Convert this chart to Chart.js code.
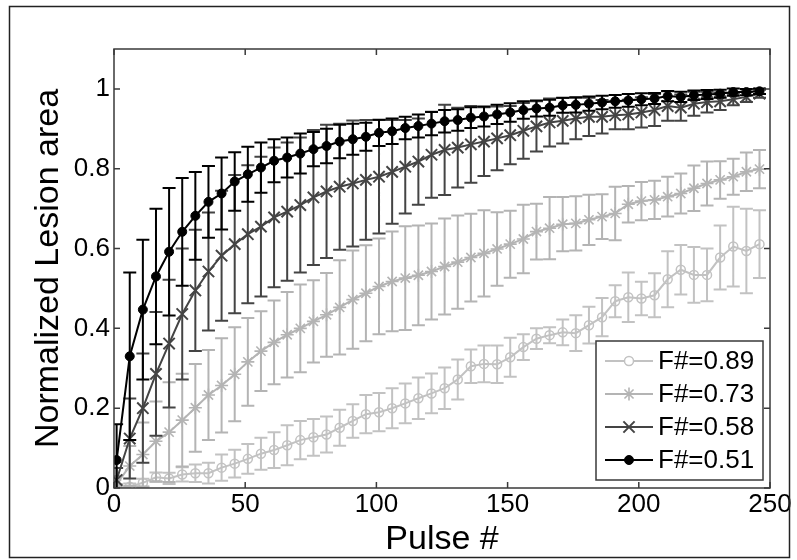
<!DOCTYPE html>
<html>
<head>
<meta charset="utf-8">
<script src="https://cdn.jsdelivr.net/npm/chart.js@4/dist/chart.umd.min.js"></script>
<style>
  html, body { margin: 0; padding: 0; background: #fff; }
  #wrap { width: 797px; height: 560px; }
</style>
</head>
<body>
<div id="wrap"><canvas id="lesionChart" width="797" height="560"></canvas></div>
<script>
/* global Chart */

// pulse number of every marker
const pulses = [1, 6, 11, 16, 21, 26, 31, 36, 41, 46, 51, 56, 61, 66, 71, 76, 81, 86, 91, 96,
  101, 106, 111, 116, 121, 126, 131, 136, 141, 146, 151, 156, 161, 166, 171, 176, 181, 186, 191, 196,
  201, 206, 211, 216, 221, 226, 231, 236, 241, 246]

// F#=0.89
const f089Mean = [0.0, 0.003, 0.013, 0.027, 0.024, 0.034, 0.037, 0.037, 0.051, 0.061,
  0.073, 0.086, 0.095, 0.107, 0.12, 0.127, 0.134, 0.151, 0.168, 0.185,
  0.19, 0.2, 0.212, 0.225, 0.237, 0.25, 0.272, 0.305, 0.311, 0.31,
  0.3275, 0.353, 0.374, 0.383, 0.39, 0.388, 0.408, 0.428, 0.468, 0.478,
  0.475, 0.483, 0.523, 0.547, 0.534, 0.534, 0.5775, 0.605, 0.594, 0.611]
const f089Err = [0.005, 0.008, 0.01, 0.012, 0.014, 0.018, 0.022, 0.026, 0.033, 0.035,
  0.037, 0.04, 0.045, 0.05, 0.048, 0.046, 0.045, 0.045, 0.042, 0.048,
  0.048, 0.05, 0.05, 0.052, 0.05, 0.052, 0.05, 0.042, 0.046, 0.047,
  0.049, 0.032, 0.026, 0.02, 0.032, 0.045, 0.046, 0.048, 0.04, 0.062,
  0.042, 0.055, 0.07, 0.062, 0.07, 0.066, 0.08, 0.1, 0.106, 0.085]

// F#=0.73
const f073Mean = [0.01, 0.055, 0.084, 0.117, 0.14, 0.17, 0.201, 0.233, 0.257, 0.285,
  0.316, 0.343, 0.365, 0.384, 0.4, 0.4175, 0.434, 0.4525, 0.472, 0.488,
  0.505, 0.5175, 0.526, 0.533, 0.5425, 0.555, 0.566, 0.5775, 0.588, 0.599,
  0.611, 0.624, 0.6425, 0.651, 0.661, 0.663, 0.672, 0.68, 0.688, 0.711,
  0.719, 0.722, 0.73, 0.738, 0.751, 0.763, 0.772, 0.78, 0.7925, 0.799]
const f073Err = [0.02, 0.05, 0.08, 0.1, 0.125, 0.116, 0.11, 0.113, 0.118, 0.118,
  0.11, 0.1, 0.105, 0.107, 0.11, 0.103, 0.105, 0.118, 0.123, 0.12,
  0.12, 0.125, 0.13, 0.125, 0.12, 0.12, 0.117, 0.11, 0.108, 0.092,
  0.084, 0.086, 0.07, 0.078, 0.068, 0.068, 0.063, 0.056, 0.067, 0.046,
  0.048, 0.048, 0.05, 0.05, 0.057, 0.055, 0.047, 0.045, 0.048, 0.048]

// F#=0.58
const f058Mean = [0.02, 0.124, 0.2, 0.286, 0.362, 0.436, 0.495, 0.5425, 0.582, 0.611,
  0.636, 0.655, 0.678, 0.6925, 0.709, 0.728, 0.743, 0.755, 0.763, 0.772,
  0.78, 0.792, 0.805, 0.818, 0.835, 0.847, 0.853, 0.861, 0.868, 0.876,
  0.884, 0.895, 0.906, 0.916, 0.92, 0.926, 0.93, 0.93, 0.934, 0.936,
  0.941, 0.947, 0.957, 0.953, 0.963, 0.967, 0.969, 0.974, 0.98, 0.988]
const f058Err = [0.03, 0.1, 0.137, 0.155, 0.16, 0.164, 0.152, 0.148, 0.163, 0.173,
  0.173, 0.175, 0.175, 0.173, 0.169, 0.169, 0.167, 0.158, 0.158, 0.15,
  0.142, 0.13, 0.117, 0.108, 0.108, 0.113, 0.1, 0.096, 0.086, 0.08,
  0.073, 0.07, 0.063, 0.06, 0.057, 0.052, 0.048, 0.042, 0.035, 0.037,
  0.038, 0.04, 0.037, 0.033, 0.03, 0.026, 0.022, 0.015, 0.013, 0.01]

// F#=0.51
const f051Mean = [0.07, 0.33, 0.447, 0.53, 0.592, 0.642, 0.682, 0.717, 0.738, 0.768,
  0.786, 0.803, 0.82, 0.828, 0.838, 0.849, 0.857, 0.868, 0.874, 0.88,
  0.89, 0.894, 0.902, 0.907, 0.913, 0.919, 0.922, 0.928, 0.931, 0.936,
  0.941, 0.947, 0.951, 0.953, 0.959, 0.96, 0.963, 0.966, 0.969, 0.971,
  0.974, 0.976, 0.982, 0.98, 0.984, 0.986, 0.988, 0.992, 0.992, 0.994]
const f051Err = [0.09, 0.21, 0.175, 0.17, 0.16, 0.135, 0.11, 0.09, 0.09, 0.073,
  0.069, 0.063, 0.054, 0.05, 0.05, 0.043, 0.043, 0.042, 0.039, 0.035,
  0.033, 0.032, 0.028, 0.029, 0.029, 0.028, 0.027, 0.026, 0.025, 0.024,
  0.023, 0.022, 0.02, 0.02, 0.019, 0.019, 0.018, 0.017, 0.016, 0.016,
  0.015, 0.014, 0.013, 0.013, 0.012, 0.011, 0.01, 0.009, 0.008, 0.007]

const xTicks = [0, 50, 100, 150, 200, 250]
const yTicks = [0, 0.2, 0.4, 0.6, 0.8, 1]

Chart.defaults.font.family = "'Liberation Sans', Arial, sans-serif"
Chart.defaults.color = '#000'

const points = (means) => pulses.map((p, i) => ({ x: p, y: means[i] }))

// vertical bars with caps, like matlab errorbar()
const errorBars = {
  id: 'errorBars',
  beforeDatasetDraw(chart, args) {
    const ds = chart.data.datasets[args.index]
    if (!ds.errors) return
    const { ctx, chartArea: a, scales } = chart
    const cap = 6.5
    ctx.save()
    ctx.beginPath()
    ctx.rect(a.left, a.top, a.right - a.left, a.bottom - a.top)
    ctx.clip()
    ctx.strokeStyle = ds.borderColor
    ctx.lineWidth = 2
    ctx.beginPath()
    ds.data.forEach((pt, i) => {
      const px = scales.x.getPixelForValue(pt.x)
      const hi = scales.y.getPixelForValue(pt.y + ds.errors[i])
      const lo = scales.y.getPixelForValue(pt.y - ds.errors[i])
      ctx.moveTo(px, hi); ctx.lineTo(px, lo)
      ctx.moveTo(px - cap, hi); ctx.lineTo(px + cap, hi)
      ctx.moveTo(px - cap, lo); ctx.lineTo(px + cap, lo)
    })
    ctx.stroke()
    ctx.restore()
  }
}

// box around the axes with inward ticks on all four sides
const axesBox = {
  id: 'axesBox',
  afterDatasetsDraw(chart) {
    const { ctx, chartArea: a, scales } = chart
    const tl = 6
    ctx.save()
    ctx.strokeStyle = '#3a3a3a'
    ctx.lineWidth = 1.5
    ctx.strokeRect(a.left, a.top, a.right - a.left, a.bottom - a.top)
    ctx.beginPath()
    xTicks.forEach(v => {
      const px = scales.x.getPixelForValue(v)
      ctx.moveTo(px, a.bottom); ctx.lineTo(px, a.bottom - tl)
      ctx.moveTo(px, a.top); ctx.lineTo(px, a.top + tl)
    })
    yTicks.forEach(v => {
      const py = scales.y.getPixelForValue(v)
      ctx.moveTo(a.left, py); ctx.lineTo(a.left + tl, py)
      ctx.moveTo(a.right, py); ctx.lineTo(a.right - tl, py)
    })
    ctx.stroke()
    ctx.restore()
  }
}

function marker(ctx, style, x, y, r) {
  ctx.beginPath()
  if (style === 'circle') {
    ctx.arc(x, y, r, 0, Math.PI * 2)
    return
  }
  if (style === 'star') {
    ctx.moveTo(x, y - r); ctx.lineTo(x, y + r)
    ctx.moveTo(x - r, y); ctx.lineTo(x + r, y)
  }
  const e = r * 0.7
  ctx.moveTo(x - e, y - e); ctx.lineTo(x + e, y + e)
  ctx.moveTo(x - e, y + e); ctx.lineTo(x + e, y - e)
}

// matlab style legend box, bottom right inside the axes
const boxLegend = {
  id: 'boxLegend',
  afterDraw(chart) {
    const { ctx, chartArea: a } = chart
    const w = 167, h = 139
    const left = a.right - 7 - w
    const top = a.bottom - 8 - h
    ctx.save()
    ctx.fillStyle = '#fff'
    ctx.fillRect(left, top, w, h)
    ctx.strokeStyle = '#3a3a3a'
    ctx.lineWidth = 1.5
    ctx.strokeRect(left, top, w, h)
    chart.data.datasets.forEach((ds, i) => {
      const y = top + 20 + i * 33
      ctx.strokeStyle = ds.borderColor
      ctx.lineWidth = ds.borderWidth
      ctx.beginPath()
      ctx.moveTo(left + 9, y); ctx.lineTo(left + 57, y)
      ctx.stroke()
      marker(ctx, ds.pointStyle, left + 33, y, ds.pointRadius)
      ctx.lineWidth = ds.pointBorderWidth
      ctx.fillStyle = ds.pointBackgroundColor === 'transparent' ? '#fff' : ds.pointBackgroundColor
      if (ds.pointStyle === 'circle') ctx.fill()
      ctx.stroke()
      ctx.fillStyle = '#000'
      ctx.font = "26px 'Liberation Sans', Arial, sans-serif"
      ctx.textBaseline = 'middle'
      ctx.fillText(ds.label, left + 62, y + 1)
    })
    // outer frame of the figure
    ctx.strokeStyle = '#222'
    ctx.lineWidth = 1.5
    ctx.strokeRect(9.5, 6.5, 780, 551)
    ctx.restore()
  }
}

const lesionChart = new Chart(document.getElementById('lesionChart'), {
  type: 'line',
  data: {
    datasets: [{
      label: 'F#=0.89',
      data: points(f089Mean),
      errors: f089Err,
      borderColor: '#c2c2c2',
      borderWidth: 2,
      pointStyle: 'circle',
      pointRadius: 4.5,
      pointBorderWidth: 1.5,
      pointBorderColor: '#c2c2c2',
      pointBackgroundColor: 'transparent',
      order: 4
    }, {
      label: 'F#=0.73',
      data: points(f073Mean),
      errors: f073Err,
      borderColor: '#b4b4b4',
      borderWidth: 2,
      pointStyle: 'star',
      pointRadius: 6.5,
      pointBorderWidth: 1.6,
      pointBorderColor: '#b4b4b4',
      pointBackgroundColor: 'transparent',
      order: 3
    }, {
      label: 'F#=0.58',
      data: points(f058Mean),
      errors: f058Err,
      borderColor: '#444444',
      borderWidth: 2,
      pointStyle: 'crossRot',
      pointRadius: 8,
      pointBorderWidth: 2,
      pointBorderColor: '#444444',
      pointBackgroundColor: 'transparent',
      order: 2
    }, {
      label: 'F#=0.51',
      data: points(f051Mean),
      errors: f051Err,
      borderColor: '#000000',
      borderWidth: 2,
      pointStyle: 'circle',
      pointRadius: 4.5,
      pointBorderWidth: 1,
      pointBorderColor: '#000000',
      pointBackgroundColor: '#000000',
      order: 1
    }]
  },
  options: {
    responsive: false,
    animation: false,
    events: [],
    layout: { padding: { left: 0, right: 27, top: 49, bottom: 0 } },
    plugins: {
      legend: { display: false },
      tooltip: { enabled: false }
    },
    scales: {
      x: {
        type: 'linear',
        min: 0,
        max: 250,
        grid: { display: false, drawTicks: false },
        border: { display: false },
        afterBuildTicks: s => { s.ticks = xTicks.map(v => ({ value: v })) },
        afterFit: s => { s.height = 72 },
        ticks: { padding: 1, font: { size: 26 }, color: '#000', maxRotation: 0, callback: v => String(v) },
        title: { display: true, text: 'Pulse #', font: { size: 34 }, color: '#000', padding: { top: 0, bottom: 0 } }
      },
      y: {
        type: 'linear',
        min: 0,
        max: 1.1,
        grid: { display: false, drawTicks: false },
        border: { display: false },
        afterBuildTicks: s => { s.ticks = yTicks.map(v => ({ value: v })) },
        afterFit: s => { s.width = 114 },
        ticks: { padding: 4, font: { size: 26 }, color: '#000', callback: v => String(v) },
        title: { display: true, text: 'Normalized Lesion area', font: { size: 34 }, color: '#000', padding: { top: 28, bottom: 0 } }
      }
    }
  },
  plugins: [errorBars, axesBox, boxLegend]
})
</script>
</body>
</html>
